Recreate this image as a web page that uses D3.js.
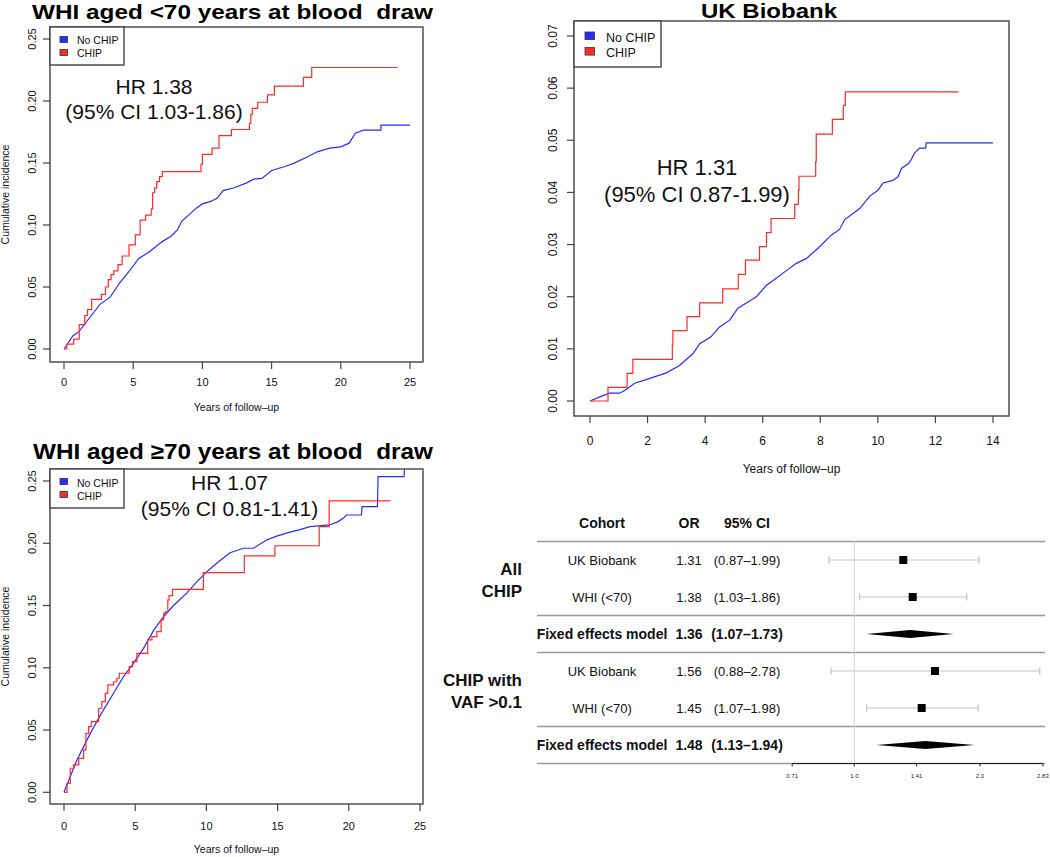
<!DOCTYPE html>
<html><head><meta charset="utf-8">
<script src="https://cdn.jsdelivr.net/npm/d3@7"></script>
<style>
body{margin:0;background:#fff;}
svg{display:block;font-family:"Liberation Sans",Arial,Helvetica,sans-serif;}
</style>
</head><body>
<svg id="chart" width="1050" height="857"></svg>
<script>
// ---------------- DATA ----------------
const whiTicksX = [0, 5, 10, 15, 20, 25];
const whiTicksY = [0, 0.05, 0.10, 0.15, 0.20, 0.25];
const ukbTicksX = [0, 2, 4, 6, 8, 10, 12, 14];
const ukbTicksY = [0, 0.01, 0.02, 0.03, 0.04, 0.05, 0.06, 0.07];
const legendLabels = ["No CHIP", "CHIP"];

// WHI aged <70 at blood draw  [years, cumulative incidence]
const whiU70NoChip = [[0,0],[0.65,0.0107],[1.08,0.014],[1.9,0.026],[2.6,0.036],[3.35,0.042],[4.0,0.053],[4.7,0.0625],[5.4,0.073],[6.2,0.0786],[7.1,0.0866],[7.7,0.0907],[8.2,0.096],[8.5,0.103],[9.0,0.108],[9.6,0.114],[10.0,0.117],[10.6,0.119],[11.05,0.1215],[11.5,0.1277],[12.3,0.130],[13.2,0.134],[13.7,0.137],[14.3,0.1376],[15.0,0.144],[15.9,0.147],[16.6,0.1497],[17.6,0.155],[18.3,0.159],[19.2,0.162],[20.0,0.163],[20.6,0.166],[21.05,0.174],[21.65,0.1765],[22.9,0.1765],[22.9,0.1805],[25,0.1805]];
const whiU70Chip = [[0,0],[0.2,0.004],[0.7,0.008],[1.1,0.0196],[1.5,0.027],[1.7,0.0317],[2.0,0.04],[2.7,0.044],[3.0,0.05],[3.2,0.056],[3.4,0.06],[3.6,0.063],[3.9,0.068],[4.2,0.075],[4.7,0.084],[5.15,0.092],[5.5,0.104],[5.9,0.108],[6.3,0.113],[6.4,0.126],[6.55,0.13],[6.7,0.135],[6.9,0.139],[7.1,0.143],[9.9,0.149],[10.0,0.157],[10.7,0.162],[11.2,0.172],[12.1,0.177],[13.4,0.182],[13.5,0.189],[13.6,0.194],[14.0,0.199],[14.7,0.205],[15.2,0.212],[17.3,0.219],[17.9,0.227],[24.1,0.227]];

// UK Biobank
const ukbNoChip = [[0,0],[0.34,0.0008],[0.68,0.0015],[1.03,0.0015],[1.26,0.0022],[1.55,0.0034],[2.0,0.0042],[2.65,0.0054],[3.11,0.0068],[3.58,0.0091],[3.81,0.011],[4.2,0.0123],[4.5,0.0142],[4.85,0.0155],[5.14,0.0178],[5.43,0.0188],[5.78,0.02],[6.13,0.0222],[6.41,0.0233],[6.82,0.025],[7.17,0.0264],[7.51,0.0273],[7.92,0.0293],[8.38,0.0318],[8.67,0.0329],[8.85,0.0348],[9.37,0.0369],[9.72,0.0393],[10.0,0.0404],[10.18,0.0418],[10.52,0.0423],[10.7,0.043],[10.82,0.0446],[11.05,0.0455],[11.16,0.0463],[11.28,0.0476],[11.45,0.0485],[11.66,0.0485],[11.68,0.0495],[14,0.0495]];
const ukbChip = [[0,0],[0.625,0.0026],[1.29,0.0053],[1.49,0.008],[2.86,0.0107],[2.88,0.0135],[3.37,0.0162],[3.81,0.0188],[4.61,0.0215],[5.15,0.0243],[5.4,0.027],[5.89,0.0296],[6.13,0.0323],[6.29,0.035],[7.11,0.0377],[7.24,0.0404],[7.26,0.0431],[7.84,0.0459],[7.86,0.0512],[8.42,0.054],[8.8,0.0567],[8.87,0.0593],[12.8,0.0593]];

// WHI aged >=70 at blood draw
const whiO70NoChip = [[0,0],[0.91,0.026],[1.73,0.0447],[2.55,0.062],[3.48,0.0795],[4.18,0.093],[4.88,0.1036],[5.58,0.1156],[6.29,0.130],[6.99,0.141],[7.69,0.150],[8.62,0.16],[9.32,0.169],[10.02,0.177],[10.72,0.184],[11.66,0.1924],[12.6,0.196],[13.3,0.196],[14.23,0.2026],[14.93,0.2057],[15.86,0.209],[16.57,0.211],[17.27,0.2133],[18.67,0.2147],[19.25,0.2174],[19.6,0.22],[19.84,0.2227],[20.89,0.2227],[20.93,0.2294],[22.01,0.2294],[22.06,0.2535],[23.88,0.2535],[23.93,0.265]];
const whiO70Chip = [[0,0],[0.21,0.0072],[0.44,0.0193],[0.68,0.022],[1.03,0.0273],[1.38,0.034],[1.54,0.0474],[1.73,0.0527],[1.92,0.0567],[2.43,0.0675],[2.66,0.0728],[2.9,0.0795],[3.08,0.0862],[3.48,0.0888],[3.71,0.0916],[3.88,0.0956],[4.58,0.101],[4.81,0.105],[5.12,0.1116],[5.88,0.1224],[6.17,0.125],[6.52,0.129],[6.82,0.1384],[7.0,0.1437],[7.1,0.145],[7.29,0.1545],[7.38,0.158],[7.62,0.163],[9.79,0.1764],[12.66,0.1898],[14.81,0.198],[17.92,0.2133],[18.62,0.234],[22.92,0.234]];

// Forest plot
const forestGroups = [["All", "CHIP"], ["CHIP with", "VAF >0.1"]];
const forestHeaders = ["Cohort", "OR", "95% CI"];
const forestCohorts = ["UK Biobank", "WHI (<70)", "Fixed effects model", "UK Biobank", "WHI (<70)", "Fixed effects model"];
const forestOR = [1.31, 1.38, 1.36, 1.56, 1.45, 1.48];
const forestLo = [0.87, 1.03, 1.07, 0.88, 1.07, 1.13];
const forestHi = [1.99, 1.86, 1.73, 2.78, 1.98, 1.94];
const forestSummary = [false, false, true, false, false, true];
const forestTicks = [0.71, 1.0, 1.41, 2.0, 2.83];
const forestTickLabels = ["0.71", "1.0", "1.41", "2.0", "2.83"];

// ---------------- DRAW ----------------
const svg = d3.select("#chart");
const RED = "#ff2a2a", BLUE = "#2a2aff", AX = "#444";

function kmPanel(cfg) {
  const g = svg.append("g");
  const x = d3.scaleLinear().domain(cfg.xDom).range(cfg.xRange);
  const y = d3.scaleLinear().domain(cfg.yDom).range(cfg.yRange);
  const [bl, bt, br, bb] = cfg.box;
  const clipId = "clip" + cfg.id;
  svg.append("clipPath").attr("id", clipId).append("rect")
    .attr("x", bl).attr("y", bt).attr("width", br - bl).attr("height", bb - bt);

  // curves
  const stepLine = d3.line().x(d => x(d[0])).y(d => y(d[1])).curve(d3.curveStepAfter);
  const smoothLine = d3.line().x(d => x(d[0])).y(d => y(d[1]));
  const cg = g.append("g").attr("clip-path", `url(#${clipId})`);
  cg.append("path").datum(cfg.noChip).attr("d", smoothLine)
    .attr("fill", "none").attr("stroke", BLUE).attr("stroke-width", 1.2);
  cg.append("path").datum(cfg.chip).attr("d", stepLine)
    .attr("fill", "none").attr("stroke", RED).attr("stroke-width", 1.2);

  // box
  g.append("rect").attr("x", bl).attr("y", bt).attr("width", br - bl).attr("height", bb - bt)
    .attr("fill", "none").attr("stroke", AX).attr("stroke-width", 1.4);

  // x axis
  cfg.xTicks.forEach(t => {
    g.append("line").attr("x1", x(t)).attr("x2", x(t)).attr("y1", bb).attr("y2", bb + 7)
      .attr("stroke", AX).attr("stroke-width", 1.2);
    g.append("text").attr("x", x(t)).attr("y", cfg.xTickY).attr("text-anchor", "middle")
      .attr("font-size", cfg.tickFs).attr("fill", "#111").text(d3.format("d")(t));
  });
  // y axis
  cfg.yTicks.forEach(t => {
    g.append("line").attr("x1", bl - 7).attr("x2", bl).attr("y1", y(t)).attr("y2", y(t))
      .attr("stroke", AX).attr("stroke-width", 1.2);
    g.append("text").attr("transform", `translate(${cfg.yTickX},${y(t)}) rotate(-90)`)
      .attr("text-anchor", "middle").attr("font-size", cfg.tickFs).attr("fill", "#111")
      .text(d3.format(cfg.yFmt)(t));
  });
  // axis titles
  g.append("text").attr("x", (bl + br) / 2).attr("y", cfg.xLabY).attr("text-anchor", "middle")
    .attr("font-size", cfg.labFs).attr("fill", "#111").text("Years of follow\u2013up");
  if (cfg.yLab) {
    g.append("text").attr("transform", `translate(9,${(bt + bb) / 2}) rotate(-90)`)
      .attr("text-anchor", "middle").attr("font-size", cfg.labFs).attr("fill", "#111")
      .text("Cumulative incidence");
  }
  // title
  g.append("text").attr("x", cfg.titleX).attr("y", cfg.titleY).attr("text-anchor", "middle")
    .attr("font-size", cfg.titleFs).attr("font-weight", "bold").style("white-space", "pre")
    .attr("textLength", cfg.titleW).attr("lengthAdjust", "spacingAndGlyphs")
    .text(cfg.title);
  // legend
  const L = cfg.legend;
  g.append("rect").attr("x", bl).attr("y", bt).attr("width", L.w).attr("height", L.h)
    .attr("fill", "#fff").attr("stroke", AX).attr("stroke-width", 1.4);
  [BLUE, RED].forEach((c, i) => {
    g.append("rect").attr("x", L.sx).attr("y", L.sy[i]).attr("width", L.ss).attr("height", L.ss * 0.8)
      .attr("fill", c).attr("stroke", "#333").attr("stroke-width", 0.8);
    g.append("text").attr("x", L.tx).attr("y", L.ty[i]).attr("font-size", L.fs).attr("fill", "#111")
      .text(legendLabels[i]);
  });
  // HR annotation
  cfg.hr.forEach((s, i) => {
    g.append("text").attr("x", cfg.hrX).attr("y", cfg.hrY[i]).attr("text-anchor", "middle")
      .attr("font-size", cfg.hrFs).attr("fill", "#111").text(s);
  });
}

kmPanel({
  id: "a", xDom: [0, 25], xRange: [64, 410], yDom: [0, 0.25], yRange: [349, 39],
  box: [50, 27, 423, 362], xTicks: whiTicksX, yTicks: whiTicksY, yFmt: ".2f",
  xTickY: 386, yTickX: 36, tickFs: 11, labFs: 10.5, xLabY: 411, yLab: true,
  noChip: whiU70NoChip, chip: whiU70Chip,
  title: "WHI aged <70 years at blood  draw", titleX: 232.5, titleY: 19, titleFs: 20.5, titleW: 401,
  legend: { w: 74, h: 38, sx: 60, sy: [36.5, 49.5], ss: 7.5, tx: 77, ty: [44, 56.5], fs: 10.5 },
  hr: ["HR 1.38", "(95% CI 1.03-1.86)"], hrX: 154, hrY: [94, 119], hrFs: 21
});

kmPanel({
  id: "b", xDom: [0, 14], xRange: [590, 993], yDom: [0, 0.07], yRange: [401, 36],
  box: [574, 21, 1009, 416], xTicks: ukbTicksX, yTicks: ukbTicksY, yFmt: ".2f",
  xTickY: 445, yTickX: 557, tickFs: 12, labFs: 12, xLabY: 473, yLab: false,
  noChip: ukbNoChip, chip: ukbChip,
  title: "UK Biobank", titleX: 769, titleY: 18, titleFs: 20, titleW: 136,
  legend: { w: 87, h: 46, sx: 585, sy: [32, 47.5], ss: 9.5, tx: 606, ty: [42.3, 57.3], fs: 12.5 },
  hr: ["HR 1.31", "(95% CI 0.87-1.99)"], hrX: 697, hrY: [175, 202], hrFs: 22
});

kmPanel({
  id: "c", xDom: [0, 25], xRange: [64, 420], yDom: [0, 0.25], yRange: [792.3, 481],
  box: [50, 469, 423, 804], xTicks: whiTicksX, yTicks: whiTicksY, yFmt: ".2f",
  xTickY: 830, yTickX: 36, tickFs: 11, labFs: 10.5, xLabY: 853, yLab: true,
  noChip: whiO70NoChip, chip: whiO70Chip,
  title: "WHI aged \u226570 years at blood  draw", titleX: 233, titleY: 459, titleFs: 22, titleW: 400,
  legend: { w: 74, h: 39, sx: 60, sy: [478.5, 491.5], ss: 7.5, tx: 77, ty: [486.5, 499.5], fs: 10.5 },
  hr: ["HR 1.07", "(95% CI 0.81-1.41)"], hrX: 229.5, hrY: [490, 516], hrFs: 21
});

// ---------------- FOREST PLOT ----------------
(function forest() {
  const g = svg.append("g");
  const xs = d3.scaleLog().base(2).domain([1, 2]).range([854.3, 980]);
  const row = d3.scalePoint().domain(d3.range(forestCohorts.length)).range([560, 745]);
  const step = row.step();
  const colX = [602, 689, 747];
  const lineL = 537, lineR = 1045;

  // headers
  forestHeaders.forEach((h, i) => {
    g.append("text").attr("x", colX[i]).attr("y", 528).attr("text-anchor", "middle")
      .attr("font-size", 14).attr("font-weight", "bold").attr("fill", "#111").text(h);
  });
  // separators
  const seps = [row(0) - step / 2, row(1) + step / 2, row(2) + step / 2, row(4) + step / 2, row(5) + step / 2];
  seps.forEach(yy => {
    g.append("line").attr("x1", lineL).attr("x2", lineR).attr("y1", yy).attr("y2", yy)
      .attr("stroke", "#999").attr("stroke-width", 1.4);
  });
  // reference line
  g.append("line").attr("x1", xs(1)).attr("x2", xs(1)).attr("y1", seps[0]).attr("y2", seps[4])
    .attr("stroke", "#d4d4d4").attr("stroke-width", 1);

  // group labels
  forestGroups.forEach((lines, gi) => {
    const base = gi === 0 ? [575, 597] : [686, 708];
    lines.forEach((s, k) => {
      g.append("text").attr("x", 522).attr("y", base[k]).attr("text-anchor", "end")
        .attr("font-size", 17).attr("font-weight", "bold").attr("fill", "#111").text(s);
    });
  });

  forestCohorts.forEach((c, i) => {
    const cy = row(i);
    const bold = forestSummary[i] ? "bold" : "normal";
    const fs = forestSummary[i] ? 14 : 13;
    const texts = [c, forestOR[i].toFixed(2),
      "(" + forestLo[i].toFixed(2) + "\u2013" + forestHi[i].toFixed(2) + ")"];
    texts.forEach((t, k) => {
      g.append("text").attr("x", colX[k]).attr("y", cy + 5).attr("text-anchor", "middle")
        .attr("font-size", fs).attr("font-weight", bold).attr("fill", "#111").text(t);
    });
    if (forestSummary[i]) {
      const h = 4;
      g.append("path").attr("d",
        `M${xs(forestLo[i])},${cy} L${xs(forestOR[i])},${cy - h} L${xs(forestHi[i])},${cy} L${xs(forestOR[i])},${cy + h} Z`)
        .attr("fill", "#000");
    } else {
      g.append("line").attr("x1", xs(forestLo[i])).attr("x2", xs(forestHi[i])).attr("y1", cy).attr("y2", cy)
        .attr("stroke", "#c4c4c4").attr("stroke-width", 1.2);
      [forestLo[i], forestHi[i]].forEach(v => {
        g.append("line").attr("x1", xs(v)).attr("x2", xs(v)).attr("y1", cy - 3.5).attr("y2", cy + 3.5)
          .attr("stroke", "#c4c4c4").attr("stroke-width", 1.2);
      });
      g.append("rect").attr("x", xs(forestOR[i]) - 4).attr("y", cy - 4).attr("width", 8).attr("height", 8)
        .attr("fill", "#000");
    }
  });

  // axis
  const ay = seps[4];
  g.append("line").attr("x1", xs(forestTicks[0])).attr("x2", xs(forestTicks[forestTicks.length - 1]))
    .attr("y1", ay).attr("y2", ay).attr("stroke", "#222").attr("stroke-width", 1);
  forestTicks.forEach((t, i) => {
    g.append("line").attr("x1", xs(t)).attr("x2", xs(t)).attr("y1", ay).attr("y2", ay + 3)
      .attr("stroke", "#222").attr("stroke-width", 1);
    g.append("text").attr("x", xs(t)).attr("y", ay + 14).attr("text-anchor", "middle")
      .attr("font-size", 6).attr("fill", "#222").text(forestTickLabels[i]);
  });
})();
</script>
</body></html>
